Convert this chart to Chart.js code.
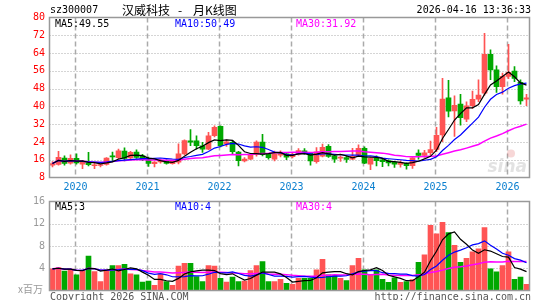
<!DOCTYPE html>
<html lang="zh-CN">
<head>
<meta charset="UTF-8">
<title>汉威科技 月K线图</title>
<script src="https://cdn.jsdelivr.net/npm/chart.js@4.4.0/dist/chart.umd.min.js"></script>
<style>
  html, body { margin: 0; padding: 0; background: #fff; overflow: hidden; }
  #wrap { position: relative; width: 545px; height: 300px; }
  #kline { position: absolute; left: 0; top: 0; }
  #vol { position: absolute; left: 0; top: 195px; }
</style>
</head>
<body>
<div id="wrap">
  <canvas id="kline" width="545" height="195"></canvas>
  <canvas id="vol" width="545" height="105"></canvas>
</div>
<script>
const months = [
  '2019-09','2019-10','2019-11','2019-12',
  '2020-01','2020-02','2020-03','2020-04','2020-05','2020-06','2020-07','2020-08','2020-09','2020-10','2020-11','2020-12',
  '2021-01','2021-02','2021-03','2021-04','2021-05','2021-06','2021-07','2021-08','2021-09','2021-10','2021-11','2021-12',
  '2022-01','2022-02','2022-03','2022-04','2022-05','2022-06','2022-07','2022-08','2022-09','2022-10','2022-11','2022-12',
  '2023-01','2023-02','2023-03','2023-04','2023-05','2023-06','2023-07','2023-08','2023-09','2023-10','2023-11','2023-12',
  '2024-01','2024-02','2024-03','2024-04','2024-05','2024-06','2024-07','2024-08','2024-09','2024-10','2024-11','2024-12',
  '2025-01','2025-02','2025-03','2025-04','2025-05','2025-06','2025-07','2025-08','2025-09','2025-10','2025-11','2025-12',
  '2026-01','2026-02','2026-03','2026-04'
];
const years = ['2020','2021','2022','2023','2024','2025','2026'];

const open = [
  13.5, 13.9, 16.7, 14.4,
  16.6, 14.0, 14.6, 13.3, 13.4, 13.9, 17.6, 16.9, 19.9, 16.8, 19.4, 17.8,
  16.1, 14.2, 15.0, 15.5, 14.2, 14.9, 18.6, 24.5, 24.5, 22.3, 20.8, 26.8,
  31.0, 23.1, 23.8, 19.4, 15.5, 16.2, 18.4, 23.9, 18.4, 16.2, 18.0, 18.6,
  17.4, 18.5, 20.0, 18.9, 15.1, 17.6, 22.0, 17.8, 16.7, 17.0, 16.3, 18.1,
  21.1, 14.0, 16.6, 16.0, 15.6, 14.8, 13.9, 14.4, 13.3, 19.0, 17.9, 19.2,
  20.6, 27.2, 43.9, 38.0, 41.0, 34.3, 40.3, 43.3, 45.9, 63.4, 56.4, 48.9,
  53.5, 55.9, 50.8, 43.3
];
const high = [
  15.2, 19.8, 17.7, 18.2,
  18.6, 15.6, 19.3, 14.5, 14.2, 17.0, 19.4, 20.8, 21.4, 19.8, 20.5, 18.4,
  17.2, 15.2, 16.2, 16.0, 15.6, 23.2, 25.0, 29.6, 26.8, 23.8, 28.3, 31.3,
  31.3, 25.0, 24.5, 19.8, 17.0, 18.9, 24.5, 27.4, 18.8, 19.9, 20.0, 19.3,
  19.3, 21.0, 21.0, 19.3, 21.5, 23.0, 22.8, 18.2, 17.8, 17.6, 21.1, 22.7,
  21.8, 16.9, 17.8, 16.3, 16.0, 15.0, 15.5, 14.6, 17.0, 20.5, 20.2, 24.4,
  30.6, 52.6, 51.7, 44.8, 45.4, 42.1, 46.9, 51.9, 72.9, 65.4, 58.2, 55.0,
  67.9, 57.9, 51.9, 45.4
];
const low = [
  12.8, 13.5, 13.6, 14.0,
  14.0, 12.0, 13.2, 12.0, 12.8, 13.6, 15.2, 16.5, 15.5, 16.5, 16.6, 15.6,
  13.0, 12.8, 14.5, 14.0, 14.0, 14.1, 18.2, 22.3, 20.8, 19.3, 20.5, 26.3,
  21.8, 22.0, 18.5, 13.2, 15.0, 16.0, 17.6, 17.7, 16.3, 15.5, 17.3, 16.0,
  16.8, 18.1, 18.5, 13.6, 14.5, 17.3, 17.0, 14.8, 15.2, 14.8, 16.0, 17.8,
  14.2, 11.5, 13.2, 12.9, 13.2, 12.5, 12.6, 11.8, 12.1, 16.2, 17.0, 18.1,
  19.6, 24.1, 35.3, 26.5, 31.6, 33.1, 39.1, 42.1, 45.1, 52.0, 46.3, 45.5,
  52.5, 51.1, 41.0, 40.3
];
const close = [
  14.3, 17.1, 14.3, 16.6,
  14.6, 14.8, 13.8, 13.7, 13.8, 16.7, 17.3, 20.0, 16.6, 19.3, 17.0, 16.3,
  14.3, 14.9, 15.3, 14.3, 15.3, 18.6, 24.6, 23.9, 22.3, 20.8, 26.8, 30.6,
  22.3, 24.1, 19.6, 15.6, 16.3, 18.4, 23.9, 18.3, 16.9, 18.6, 18.8, 17.2,
  18.4, 20.1, 19.1, 15.5, 19.6, 21.6, 17.5, 16.3, 17.0, 16.1, 17.5, 21.1,
  14.5, 16.6, 15.6, 15.1, 14.6, 14.0, 14.7, 13.3, 16.8, 17.9, 19.1, 20.6,
  27.0, 43.3, 37.9, 40.5, 34.9, 40.3, 43.2, 45.1, 63.4, 56.4, 48.9, 53.5,
  55.3, 52.6, 42.5, 43.9
];
// volume, millions of shares
const volume = [
  3.9, 4.1, 3.5, 3.85,
  2.8, 3.5, 6.2, 3.4, 1.6, 3.6, 4.5, 4.5, 4.7, 3.0, 2.8, 1.5,
  1.7, 0.95, 3.0, 1.6, 0.95, 4.4, 4.9, 4.9, 2.5, 1.6, 4.5, 4.4,
  2.2, 1.5, 2.4, 1.6, 1.7, 3.6, 4.5, 5.2, 1.6, 1.6, 2.0, 1.3,
  1.1, 2.2, 2.2, 2.2, 3.7, 5.6, 2.8, 2.7, 2.2, 1.8, 4.5, 5.8,
  3.7, 2.8, 3.7, 2.0, 1.45, 2.3, 1.45, 1.6, 1.95, 5.05, 6.4, 11.7,
  10.2, 12.25, 10.4, 8.1, 5.05, 5.8, 6.95, 7.5, 11.3, 3.9, 3.35, 4.5,
  6.95, 2.0, 2.4, 1.1
];
const priceTicks = [8, 16, 24, 32, 40, 48, 56, 64, 72, 80];
const volTicks = [0, 4, 8, 12, 16];
const priceLegend = ['MA5:49.55', 'MA10:50.49', 'MA30:31.92'];
const volLegend = ['MA5:3', 'MA10:4', 'MA30:4'];

const UP = '#ff5454';
const DOWN = '#00a800';
const MONO = '"DejaVu Sans Mono", monospace';
const CJK = '"Noto Sans CJK SC", sans-serif';
const MA_COLORS = ['#000000', '#0000ff', '#ff00ff'];

function ma(arr, n) {
  return arr.map((_, i) => {
    const s = Math.max(0, i - n + 1);
    let sum = 0;
    for (let j = s; j <= i; j++) sum += arr[j];
    return sum / (i - s + 1);
  });
}

const colors = close.map((c, i) => c >= open[i] ? UP : DOWN);

function maSet(values, color, width) {
  return {
    type: 'line', data: values, borderColor: color, borderWidth: width,
    pointRadius: 0, tension: 0, fill: false, order: 0
  };
}

function drawGrid(chart, ticks) {
  const { ctx, chartArea: a, scales: { x, y } } = chart;
  ctx.save();
  ctx.strokeStyle = '#aaaaaa';
  ctx.lineWidth = 1;
  ctx.setLineDash([1, 2]);
  ticks.forEach(v => {
    if (v <= y.min || v >= y.max) return;
    const py = Math.round(y.getPixelForValue(v)) + 0.5;
    ctx.beginPath(); ctx.moveTo(a.left, py); ctx.lineTo(a.right, py); ctx.stroke();
  });
  ctx.setLineDash([5, 3]);
  ctx.lineWidth = 1.5;
  years.forEach(yr => {
    const px = Math.floor(x.getPixelForValue(months.indexOf(yr + '-01')) - 1) + 0.5;
    ctx.beginPath(); ctx.moveTo(px, a.top); ctx.lineTo(px, a.bottom); ctx.stroke();
  });
  ctx.restore();
}

function drawFrame(chart) {
  const { ctx, chartArea: a } = chart;
  ctx.save();
  ctx.strokeStyle = '#999999';
  ctx.lineWidth = 1.5;
  ctx.strokeRect(a.left, a.top, a.right - a.left, a.bottom - a.top);
  ctx.restore();
}

function drawLegend(ctx, texts, y) {
  ctx.font = '10px ' + MONO;
  ctx.textAlign = 'left';
  ctx.textBaseline = 'middle';
  [55, 175, 296].forEach((lx, i) => {
    ctx.fillStyle = MA_COLORS[i];
    ctx.fillText(texts[i], lx, y);
  });
}

const klinePlugin = {
  id: 'klineDeco',
  beforeDatasetsDraw(chart) { drawGrid(chart, priceTicks); },
  afterDraw(chart) {
    const { ctx, chartArea: a, scales: { x, y } } = chart;
    drawFrame(chart);
    ctx.save();
    // header
    ctx.fillStyle = '#000';
    ctx.textBaseline = 'middle';
    ctx.font = '10px ' + MONO;
    ctx.textAlign = 'left';
    ctx.fillText('sz300007', 50, 10);
    ctx.font = '12px ' + CJK;
    ctx.fillText('汉威科技', 122, 10);
    ctx.fillText('-', 178, 10);
    ctx.fillText('月K线图', 193, 10);
    ctx.font = '10px ' + MONO;
    ctx.textAlign = 'right';
    ctx.fillText('2026-04-16 13:36:33', 531, 10);
    // price labels
    ctx.fillStyle = '#ff0000';
    priceTicks.forEach(v => ctx.fillText(String(v), 45, y.getPixelForValue(v)));
    // year labels
    ctx.fillStyle = '#0a7fcf';
    ctx.textAlign = 'center';
    years.forEach(yr => {
      ctx.fillText(yr, x.getPixelForValue(months.indexOf(yr + '-01')) - 1, a.bottom + 9.5);
    });
    drawLegend(ctx, priceLegend, a.top + 7);
    // watermark
    ctx.globalAlpha = 0.25;
    ctx.fillStyle = '#e06060';
    ctx.beginPath(); ctx.arc(511, a.bottom - 24, 4, 0, Math.PI * 2); ctx.fill();
    ctx.fillStyle = '#8c8c8c';
    ctx.font = 'italic bold 17px "DejaVu Sans", sans-serif';
    ctx.textAlign = 'right';
    ctx.fillText('sina', 527, a.bottom - 10);
    ctx.restore();
  }
};

const volPlugin = {
  id: 'volDeco',
  beforeDatasetsDraw(chart) { drawGrid(chart, volTicks); },
  afterDraw(chart) {
    const { ctx, chartArea: a, scales: { y } } = chart;
    drawFrame(chart);
    ctx.save();
    ctx.font = '10px ' + MONO;
    ctx.textBaseline = 'middle';
    ctx.textAlign = 'right';
    ctx.fillStyle = '#999999';
    volTicks.forEach(v => { if (v > 0) ctx.fillText(String(v), 45, y.getPixelForValue(v)); });
    ctx.textAlign = 'left';
    ctx.font = '10px ' + CJK;
    ctx.fillText('x百万', 18, a.bottom - 1);
    drawLegend(ctx, volLegend, a.top + 5.5);
    ctx.fillStyle = '#555555';
    ctx.font = '10px ' + MONO;
    ctx.textAlign = 'left';
    ctx.fillText('Copyright 2026 SINA.COM', 50, a.bottom + 7);
    ctx.textAlign = 'right';
    ctx.fillText('http://finance.sina.com.cn', 531, a.bottom + 7);
    ctx.restore();
  }
};

const baseOptions = (min, max, pad) => ({
  responsive: false,
  animation: false,
  events: [],
  layout: { padding: pad },
  plugins: { legend: { display: false }, tooltip: { enabled: false } },
  scales: {
    x: { type: 'category', display: false, offset: true },
    y: { display: false, min: min, max: max }
  }
});

new Chart('kline', {
  type: 'bar',
  data: {
    labels: months,
    datasets: [
      maSet(ma(close, 5), MA_COLORS[0], 1.2),
      maSet(ma(close, 10), MA_COLORS[1], 1.2),
      maSet(ma(close, 30), MA_COLORS[2], 1.5),
      { data: open.map((o, i) => [o, close[i]]), backgroundColor: colors,
        barThickness: 5, grouped: false, minBarLength: 1, order: 1 },
      { data: low.map((l, i) => [l, high[i]]), backgroundColor: colors,
        barThickness: 1, grouped: false, order: 2 }
    ]
  },
  options: baseOptions(8, 80, { left: 49.5, right: 15.5, top: 17.5, bottom: 17.5 }),
  plugins: [klinePlugin]
});

new Chart('vol', {
  type: 'bar',
  data: {
    labels: months,
    datasets: [
      maSet(ma(volume, 5), MA_COLORS[0], 1.2),
      maSet(ma(volume, 10), MA_COLORS[1], 1.2),
      maSet(ma(volume, 30), MA_COLORS[2], 1.5),
      { data: volume, backgroundColor: colors, barThickness: 5, grouped: false, order: 1 }
    ]
  },
  options: baseOptions(0, 16, { left: 49.5, right: 15.5, top: 6.5, bottom: 9.5 }),
  plugins: [volPlugin]
});
</script>
</body>
</html>
